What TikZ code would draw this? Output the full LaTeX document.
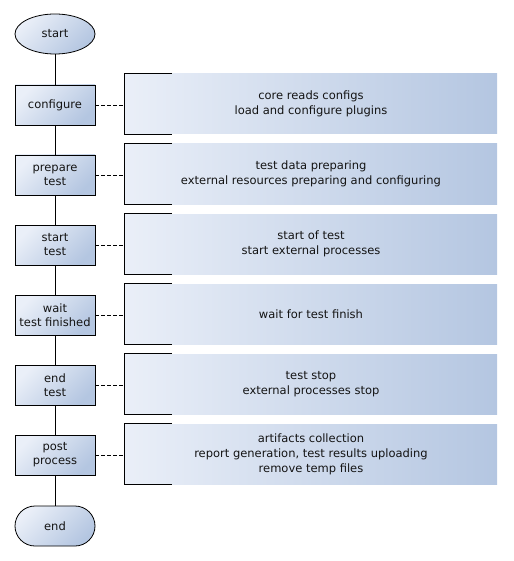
\documentclass[tikz,border=0pt]{standalone}
\usepackage{fontspec}
\setmainfont{DejaVu Sans}
\usepackage{tikz}
\usetikzlibrary{shapes.geometric,positioning,calc}
\definecolor{flight}{RGB}{234,239,248}
\definecolor{fdark}{RGB}{180,198,225}
\definecolor{ftext}{RGB}{20,20,20}
\tikzset{
  stepbox/.style={draw=black,line width=0.8pt,minimum width=80pt,minimum height=40pt,
    align=center,text=ftext,font=\fontsize{11.5}{14}\selectfont,
    top color=flight,bottom color=fdark,shading angle=45},
  termbox/.style={stepbox,ellipse,minimum width=80pt,minimum height=40pt,inner sep=0pt},
  endbox/.style={stepbox,rounded corners=20pt,inner sep=0pt},
  notebox/.style={minimum width=372pt,minimum height=60pt,align=center,text=ftext,
    font=\fontsize{11.5}{15}\selectfont,left color=flight,right color=fdark},
  link/.style={line width=0.8pt},
  hint/.style={line width=0.8pt,dash pattern=on 4pt off 2pt}
}
\begin{document}
\begin{tikzpicture}[x=1pt,y=-1pt]
  %% page frame
  \useasboundingbox (0,0) rectangle (513,561);

  %% Flow on the left
  \node[termbox] (start) at (55,34) {start};
  \node[stepbox] (cfg)  at (55,105) {configure};
  \node[stepbox] (prep) at (55,175) {prepare\\test};
  \node[stepbox] (run)  at (55,245) {start\\test};
  \node[stepbox] (wait) at (55,315) {wait\\test finished};
  \node[stepbox] (stop) at (55,385) {end\\test};
  \node[stepbox] (post) at (55,455) {post\\process};
  \node[endbox] (finish) at (55,526) {end};

  \draw[link] (start) -- (cfg);
  \draw[link] (cfg) -- (prep);
  \draw[link] (prep) -- (run);
  \draw[link] (run) -- (wait);
  \draw[link] (wait) -- (stop);
  \draw[link] (stop) -- (post);
  \draw[link] (post) -- (finish);

  %% Notes on the right
  \node[notebox] (ncfg)  at (311,104) {core reads configs\\load and configure plugins};
  \node[notebox] (nprep) at (311,174) {test data preparing\\external resources preparing and configuring};
  \node[notebox] (nrun)  at (311,244) {start of test\\start external processes};
  \node[notebox] (nwait) at (311,314) {wait for test finish};
  \node[notebox] (nstop) at (311,384) {test stop\\external processes stop};
  \node[notebox] (npost) at (311,454) {artifacts collection\\report generation, test results uploading\\remove temp files};

  %% brackets and dashed links
  \foreach \b/\n in {cfg/ncfg,prep/nprep,run/nrun,wait/nwait,stop/nstop,post/npost}{
    \draw[link] ([xshift=47pt]\n.north west) -- (\n.north west)
      -- (\n.south west) -- ([xshift=47pt]\n.south west);
    \draw[hint] (\b.east) -- (\b.east -| \n.west);
  }
\end{tikzpicture}
\end{document}
